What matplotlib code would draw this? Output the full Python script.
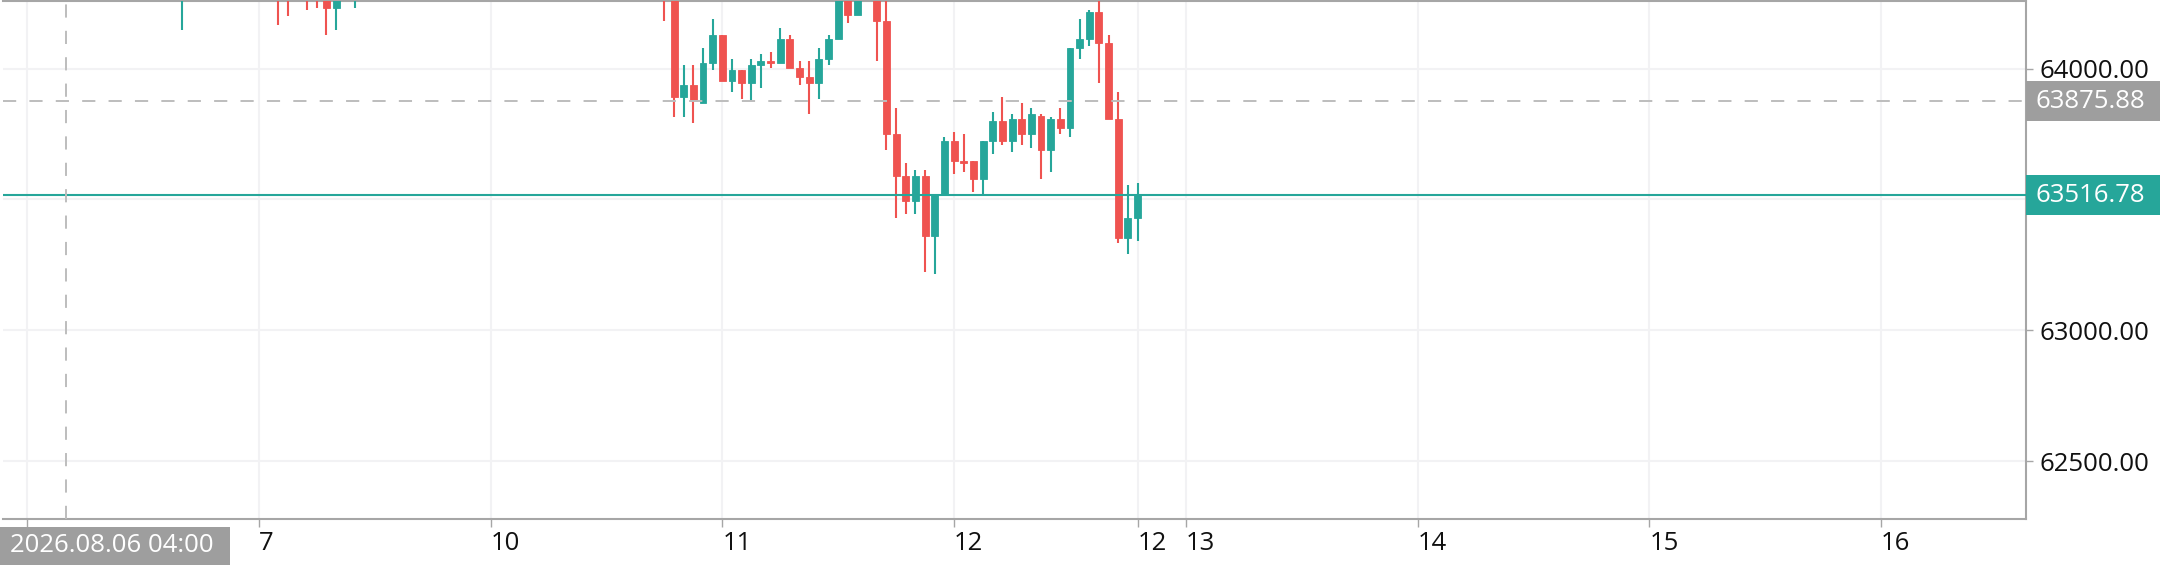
import matplotlib
matplotlib.use("Agg")
import matplotlib.pyplot as plt
from matplotlib.patches import Rectangle
from matplotlib.transforms import IdentityTransform
import numpy as np

plt.rcParams['font.family'] = ['Open Sans', 'DejaVu Sans']
plt.rcParams['lines.scale_dashes'] = False

# hourly bars, weekend (8th, 9th) skipped
days = ['6', '7', '10', '11', '12']
bars_per_day = [24, 24, 24, 24, 20]
future_days = ['13', '14', '15', '16']

opens = [
    64480, 64500, 64545, 64520, 64450, 64470, 64505, 64475, 64430, 64455, 64400, 64420,
    64440, 64375, 64390, 64335, 64300, 64360, 64405, 64450, 64435, 64410, 64395, 64360,
    64385, 64420, 64400, 64330, 64290, 64330, 64280, 64265, 64232, 64290, 64330, 64380,
    64415, 64450, 64420, 64440, 64485, 64470, 64440, 64455, 64425, 64390, 64410, 64430,
    64415, 64380, 64400, 64440, 64410, 64365, 64385, 64420, 64395, 64355, 64370, 64345,
    64330, 64360, 64340, 64315, 64335, 64300, 64290, 64270, 63892.5, 63936, 63870, 64020,
    64130, 63952, 63994, 63943.5, 64012, 64028.5, 64020, 64113.5, 64003, 63968.7, 63943.5, 64037,
    64113.5, 64290, 64206, 64300, 64330, 64181, 63749, 63588, 63495, 63588, 63359, 63517,
    63724, 63647.6, 63647.6, 63580, 63724, 63800, 63724, 63808.7, 63749.3, 63820, 63689.5, 63808.7,
    63774.5, 64079, 64113.5, 64215, 64096, 63808.7, 63351.6, 63428,
]
highs = [
    64530, 64560, 64590, 64540, 64490, 64520, 64530, 64500, 64470, 64480, 64440, 64460,
    64450, 64410, 64400, 64360, 64380, 64420, 64470, 64490, 64460, 64450, 64420, 64400,
    64440, 64450, 64430, 64350, 64345, 64350, 64300, 64290, 64310, 64350, 64400, 64430,
    64470, 64480, 64460, 64500, 64530, 64490, 64470, 64480, 64450, 64430, 64450, 64460,
    64440, 64420, 64455, 64470, 64430, 64400, 64430, 64445, 64410, 64390, 64400, 64370,
    64380, 64390, 64360, 64350, 64355, 64330, 64320, 64290, 64012, 64012, 64079, 64190,
    64130, 64037, 63994, 64037, 64054, 64063, 64155, 64130, 64028.5, 64028.5, 64079, 64130,
    64300, 64310, 64320, 64370, 64345, 64280, 63850.6, 63639, 63613, 63613, 63517, 63740,
    63758, 63749, 63647.6, 63724, 63834, 63892.5, 63825.5, 63867.4, 63850.6, 63825.5, 63816, 63850.6,
    64079, 64190, 64223, 64270, 64130, 63910.4, 63555, 63562.6,
]
lows = [
    64440, 64470, 64500, 64430, 64400, 64445, 64460, 64410, 64380, 64390, 64350, 64395,
    64360, 64320, 64310, 64280, 64148, 64330, 64390, 64420, 64380, 64370, 64340, 64320,
    64360, 64380, 64165, 64199, 64270, 64224, 64232, 64130, 64148, 64275, 64232, 64350,
    64390, 64400, 64385, 64420, 64450, 64420, 64400, 64410, 64370, 64360, 64385, 64400,
    64360, 64345, 64390, 64395, 64350, 64330, 64370, 64380, 64340, 64320, 64335, 64300,
    64310, 64330, 64295, 64290, 64285, 64270, 64181, 63816, 63816, 63791, 63870, 63994,
    63952, 63910, 63885, 63876, 63927, 64003, 64020, 64003, 63936, 63825.5, 63885, 64012,
    64113.5, 64173, 64206, 64265, 64028.5, 63689.5, 63428, 63444.5, 63444.5, 63224.7, 63216, 63517,
    63597, 63605.7, 63529.5, 63517, 63673, 63707.4, 63682, 63707.4, 63698, 63580, 63605.7, 63749.3,
    63740, 64037, 64088, 63943.5, 63808.7, 63334, 63292, 63342.8,
]
closes = [
    64500, 64545, 64520, 64450, 64470, 64505, 64475, 64430, 64455, 64400, 64420, 64440,
    64375, 64390, 64335, 64300, 64360, 64405, 64450, 64435, 64410, 64395, 64360, 64385,
    64420, 64400, 64330, 64290, 64330, 64280, 64265, 64232, 64290, 64330, 64380, 64415,
    64450, 64420, 64440, 64485, 64470, 64440, 64455, 64425, 64390, 64410, 64430, 64415,
    64380, 64400, 64440, 64410, 64365, 64385, 64420, 64395, 64355, 64370, 64345, 64330,
    64360, 64340, 64315, 64335, 64300, 64290, 64270, 63892.5, 63936, 63876, 64020, 64130,
    63952, 63994, 63943.5, 64012, 64028.5, 64020, 64113.5, 64003, 63968.7, 63943.5, 64037, 64113.5,
    64290, 64206, 64300, 64330, 64181, 63749, 63588, 63495, 63588, 63359, 63517, 63724,
    63647.6, 63639, 63580, 63724, 63800, 63724, 63808.7, 63749.3, 63825.5, 63689.5, 63808.7, 63774.5,
    64079, 64113.5, 64215, 64096, 63808.7, 63351.6, 63428, 63516.78,
]

crosshair_label = '2026.08.06 04:00'
crosshair_bar = 4
crosshair_price = 63875.88
last_price = 63516.78

UP = '#26a69a'
DOWN = '#ef5350'
GRID = '#f2f2f4'
AXIS = '#a6a6a6'
TAG_GRAY = '#9e9e9e'
DASH = '#bdbdbd'
FS = 18.5

W, H = 2162, 572
fig = plt.figure(figsize=(W / 100, H / 100), dpi=100)
ax = fig.add_axes([3 / W, 53 / H, 2023 / W, 518 / H])

o = np.array(opens)
hi = np.array(highs)
lo = np.array(lows)
c = np.array(closes)
idx = np.arange(len(c))
colors = np.where(c >= o, UP, DOWN)

# candles
ax.vlines(idx, lo, hi, colors=colors, linewidth=1.5, zorder=3)
ax.bar(idx, np.abs(c - o), bottom=np.minimum(o, c), width=0.72,
       color=colors, edgecolor=colors, linewidth=0.6, zorder=3)

ax.set_xlim(-2.49, 207.0)
ax.set_ylim(62279.4, 64258.1)

# x ticks: first bar of each day, last bar, then projected days
starts = np.cumsum([0] + bars_per_day[:-1])
xt = list(starts) + [len(c) - 1] + [starts[-1] + 24 * (k + 1) for k in range(len(future_days))]
xl = days + [days[-1]] + future_days
xl[0] = ''  # hidden under the crosshair time tag
ax.set_xticks(xt)
ax.set_xticklabels(xl, ha='left')

ax.set_yticks([62500, 63000, 64000])
ax.set_yticks([63500], minor=True)
ax.yaxis.set_major_formatter(plt.FormatStrFormatter('%.2f'))
ax.yaxis.tick_right()

ax.grid(True, which='both', color=GRID, linewidth=1.5, zorder=0)
ax.set_axisbelow(True)
ax.tick_params(axis='y', which='major', length=5, width=1, color=AXIS, pad=5,
               labelsize=FS, labelcolor='#111111')
ax.tick_params(axis='y', which='minor', length=0)
ax.tick_params(axis='x', length=6, width=1, color=AXIS, pad=3,
               labelsize=FS, labelcolor='#111111')

for side in ['top', 'right', 'bottom']:
    ax.spines[side].set_color(AXIS)
    ax.spines[side].set_linewidth(1.5)
ax.spines['left'].set_visible(False)

# last price line, crosshair
ax.axhline(last_price, color=UP, linewidth=1.5, zorder=4)
ax.axhline(crosshair_price, color=DASH, linewidth=1.4, linestyle=(0, (9.5, 9.5)), zorder=4)
ax.axvline(crosshair_bar, color=DASH, linewidth=1.4, linestyle=(0, (9.5, 9.5)), zorder=4)


def price_tag(price, color):
    y = ax.transData.transform((0, price))[1]
    x0 = ax.transAxes.transform((1, 0))[0]
    fig.add_artist(Rectangle((x0, y - 20), 134, 40, transform=IdentityTransform(),
                             facecolor=color, edgecolor='none', zorder=5))
    fig.text((x0 + 10) / W, y / H, f'{price:.2f}', color='white', fontsize=FS,
             ha='left', va='center', zorder=6)


price_tag(crosshair_price, TAG_GRAY)
price_tag(last_price, UP)

# time tag under crosshair
fig.add_artist(Rectangle((0, 7), 230, 38, transform=IdentityTransform(),
                         facecolor=TAG_GRAY, edgecolor='none', zorder=5))
fig.text(10 / W, 26 / H, crosshair_label, color='white', fontsize=FS,
         ha='left', va='center', zorder=6)

fig.savefig('out.png', dpi=100)
